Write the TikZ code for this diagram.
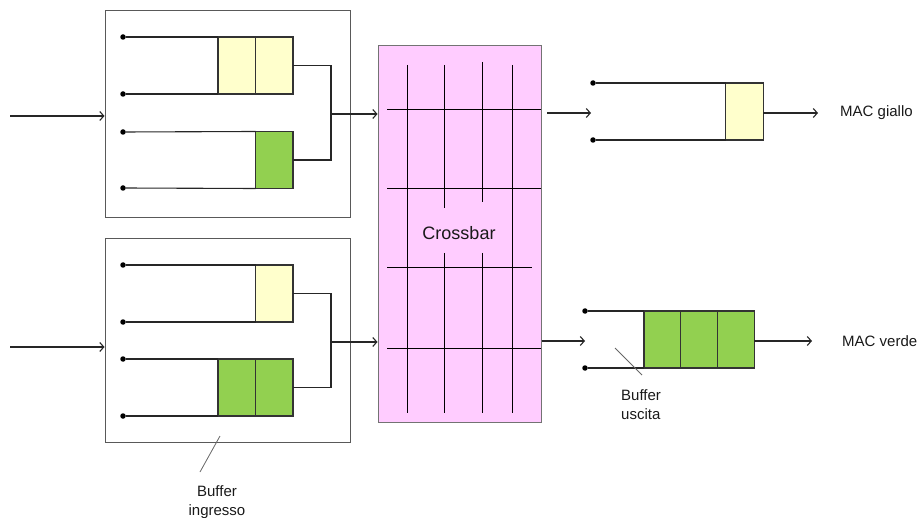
\documentclass[tikz,border=0pt]{standalone}
\usepackage{fontspec}
\setmainfont{Liberation Sans}
\usetikzlibrary{arrows.meta}
\definecolor{yel}{HTML}{FFFFCC}
\definecolor{grn}{HTML}{92D050}
\definecolor{pnk}{HTML}{FFCCFF}
\tikzset{
  cell/.style={draw=black!80, line width=1.1pt, minimum width=37.5pt, minimum height=57pt, inner sep=0pt, outer sep=0pt},
  frame/.style={draw=black!65, line width=1pt, inner sep=0pt},
  dot/.style={circle, fill=black, inner sep=0pt, minimum size=5.5pt},
  wire/.style={draw=black!85, line width=1.1pt},
  flow/.style={wire, -{Straight Barb[length=4pt,width=9pt]}},
  grid/.style={draw=black, line width=1pt},
  note/.style={draw=black!60, line width=0.8pt},
  lbl/.style={font=\fontsize{15}{19}\selectfont, text=black!90, inner sep=0pt, align=center}
}
\begin{document}
\begin{tikzpicture}[x=1pt, y=-1pt]
\useasboundingbox (0,0) rectangle (920,518);

% ---- input buffer, top port ----
\node[frame, minimum width=245pt, minimum height=207pt] (inA) at (227.5,114.5) {};
\node[dot] (pa1) at (123,37) {};
\node[dot] (pa2) at (123,94) {};
\node[dot] (pa3) at (123,132) {};
\node[dot] (pa4) at (123,188) {};
\node[cell, fill=yel] (a1) at (236.75,65.5) {};
\node[cell, fill=yel] (a2) at (274.25,65.5) {};
\node[cell, fill=grn] (b1) at (274.25,160) {};
\draw[wire] (pa1) -- (a1.north west);
\draw[wire] (pa2) -- (a1.south west);
\draw[wire] (pa3) -- (b1.north west);
\draw[wire] (pa4) -- (b1.south west);
\coordinate (ja) at (331,114);
\coordinate (sa) at (10,116);
\draw[wire] (a2.east) -| (ja) |- (b1.east);
\draw[flow] (sa) -- (inA.west |- sa);

% ---- input buffer, bottom port ----
\node[frame, minimum width=245pt, minimum height=203pt] (inB) at (227.5,340.5) {};
\node[dot] (pb1) at (123,265) {};
\node[dot] (pb2) at (123,322) {};
\node[dot] (pb3) at (123,359) {};
\node[dot] (pb4) at (123,416) {};
\node[cell, fill=yel] (c1) at (274.25,293.5) {};
\node[cell, fill=grn] (d1) at (236.75,387.5) {};
\node[cell, fill=grn] (d2) at (274.25,387.5) {};
\draw[wire] (pb1) -- (c1.north west);
\draw[wire] (pb2) -- (c1.south west);
\draw[wire] (pb3) -- (d1.north west);
\draw[wire] (pb4) -- (d1.south west);
\coordinate (jb) at (331,342);
\coordinate (sb) at (10,347);
\draw[wire] (c1.east) -| (jb) |- (d2.east);
\draw[flow] (sb) -- (inB.west |- sb);

% ---- crossbar ----
\node[frame, draw=black!55, fill=pnk, minimum width=163pt, minimum height=376pt] (xbar) at (459.5,234) {};
\draw[grid] (407,65) -- (407,413);
\draw[grid] (444,65) -- (444,208);
\draw[grid] (444,253) -- (444,413);
\draw[grid] (482,62) -- (482,202);
\draw[grid] (482,253) -- (482,413);
\draw[grid] (512,65) -- (512,413);
\draw[grid] (387,110) -- (541,110);
\draw[grid] (387,189) -- (541,189);
\draw[grid] (387,268) -- (532,268);
\draw[grid] (387,348) -- (541,348);
\node[lbl, font=\fontsize{18}{22}\selectfont] (xlbl) at (459,233) {Crossbar};
\draw[flow] (ja) -- (xbar.west |- ja);
\draw[flow] (jb) -- (xbar.west |- jb);

% ---- output buffer, yellow MAC ----
\node[dot] (qa1) at (593,83) {};
\node[dot] (qa2) at (593,140) {};
\node[cell, fill=yel] (e1) at (744.5,111.5) {};
\draw[wire] (qa1) -- (e1.north west);
\draw[wire] (qa2) -- (e1.south west);
\coordinate (oa) at (547,113);
\coordinate (ia) at (591,113);
\draw[flow] (oa) -- (ia);
\node[lbl, anchor=west] (maca) at (840,113) {MAC giallo};
\draw[flow] (e1.east |- oa) -- (maca.west -| 818,0);

% ---- output buffer, green MAC ----
\node[dot] (qb1) at (585,311) {};
\node[dot] (qb2) at (585,368) {};
\node[cell, fill=grn, minimum width=36.7pt] (f1) at (662.35,339.5) {};
\node[cell, fill=grn, minimum width=36.7pt] (f2) at (699.05,339.5) {};
\node[cell, fill=grn, minimum width=36.7pt] (f3) at (735.75,339.5) {};
\draw[wire] (qb1) -- (f1.north west);
\draw[wire] (qb2) -- (f1.south west);
\coordinate (ib) at (585,341);
\draw[flow] (xbar.east |- ib) -- (ib);
\node[lbl, anchor=west] (macb) at (842,341) {MAC verde};
\draw[flow] (f3.east |- ib) -- (macb.west -| 812,0);

% ---- labels ----
\node[lbl] (bin) at (217,502) {Buffer\\ingresso};
\coordinate (nin1) at (220,436);
\coordinate (nin2) at (200,472);
\draw[note] (nin1) -- (nin2);
\node[lbl, align=left, anchor=west] (bout) at (621,405) {Buffer\\uscita};
\coordinate (nout1) at (615,348);
\coordinate (nout2) at (642,375);
\draw[note] (nout1) -- (nout2);
\end{tikzpicture}
\end{document}
